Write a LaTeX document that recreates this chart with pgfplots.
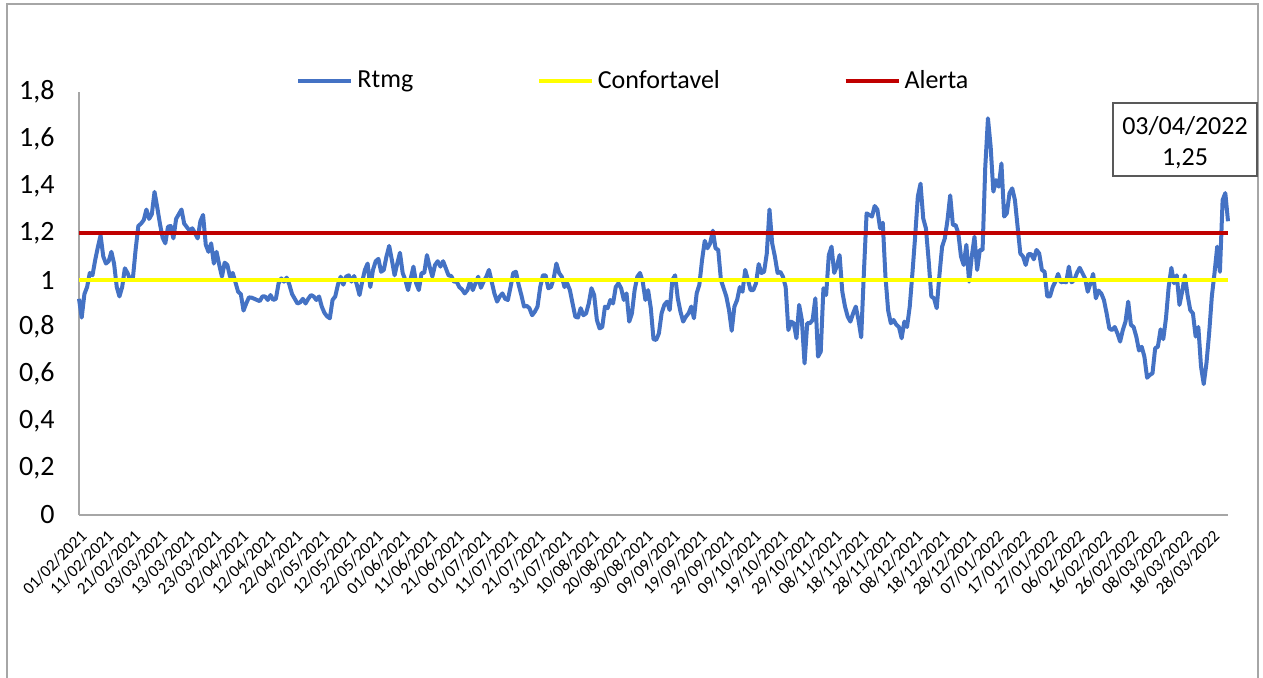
\documentclass[border=0pt]{standalone}
\usepackage{pgfplots}
\pgfplotsset{compat=1.18}
\usepackage{pgfplotstable}
\usepackage{fontspec}
\setmainfont{Carlito}
\definecolor{rtblue}{HTML}{4472C4}
\definecolor{confy}{HTML}{FFFF00}
\definecolor{alred}{HTML}{C00000}
\definecolor{frame}{HTML}{A6A6A6}
\definecolor{boxgray}{HTML}{595959}
\pgfplotstableread{
d v
0 0.92
1 0.84
2 0.94
3 0.97
4 1.03
5 1.02
6 1.085
7 1.14
8 1.19
9 1.10
10 1.07
11 1.08
12 1.12
13 1.07
14 0.97
15 0.93
16 0.97
17 1.05
18 1.03
19 1.0
20 1.01
21 1.13
22 1.23
23 1.24
24 1.255
25 1.30
26 1.26
27 1.28
28 1.375
29 1.31
30 1.24
31 1.18
32 1.156
33 1.227
34 1.23
35 1.177
36 1.26
37 1.28
38 1.30
39 1.24
40 1.225
41 1.21
42 1.22
43 1.20
44 1.177
45 1.25
46 1.277
47 1.15
48 1.12
49 1.156
50 1.07
51 1.12
52 1.064
53 1.014
54 1.074
55 1.064
56 1.014
57 1.03
58 0.99
59 0.95
60 0.94
61 0.87
62 0.90
63 0.926
64 0.925
65 0.92
66 0.915
67 0.91
68 0.93
69 0.93
70 0.915
71 0.936
72 0.915
73 0.92
74 0.986
75 1.007
76 0.993
77 1.01
78 0.98
79 0.94
80 0.92
81 0.90
82 0.905
83 0.92
84 0.90
85 0.92
86 0.936
87 0.93
88 0.915
89 0.93
90 0.887
91 0.86
92 0.845
93 0.837
94 0.915
95 0.93
96 0.98
97 1.014
98 0.98
99 1.014
100 1.02
101 0.993
102 1.017
103 0.98
104 0.936
105 0.993
106 1.043
107 1.07
108 0.97
109 1.043
110 1.08
111 1.09
112 1.035
113 1.043
114 1.10
115 1.145
116 1.085
117 1.02
118 1.07
119 1.116
120 1.03
121 1.0
122 0.957
123 1.007
124 1.057
125 0.986
126 0.957
127 1.03
128 1.03
129 1.106
130 1.057
131 1.014
132 1.064
133 1.08
134 1.057
135 1.08
136 1.05
137 1.02
138 1.017
139 0.993
140 0.993
141 0.97
142 0.96
143 0.943
144 0.957
145 0.993
146 0.957
147 0.986
148 1.014
149 0.967
150 0.993
151 1.014
152 1.043
153 0.993
154 0.943
155 0.908
156 0.93
157 0.943
158 0.92
159 0.915
160 0.97
161 1.03
162 1.035
163 0.98
164 0.936
165 0.887
166 0.89
167 0.88
168 0.85
169 0.865
170 0.887
171 0.97
172 1.02
173 1.02
174 0.965
175 0.97
176 1.007
177 1.07
178 1.03
179 1.014
180 0.97
181 0.986
182 0.957
183 0.90
184 0.844
185 0.84
186 0.88
187 0.85
188 0.858
189 0.90
190 0.965
191 0.936
192 0.83
193 0.794
194 0.80
195 0.887
196 0.88
197 0.915
198 0.90
199 0.97
200 0.986
201 0.965
202 0.915
203 0.943
204 0.823
205 0.858
206 0.957
207 1.014
208 1.03
209 0.993
210 0.915
211 0.957
212 0.88
213 0.748
214 0.745
215 0.773
216 0.858
217 0.894
218 0.908
219 0.872
220 1.0
221 1.02
222 0.922
223 0.865
224 0.823
225 0.844
226 0.858
227 0.887
228 0.837
229 0.943
230 0.98
231 1.085
232 1.167
233 1.135
234 1.156
235 1.21
236 1.135
237 1.128
238 1.0
239 0.965
240 0.93
241 0.872
242 0.784
243 0.887
244 0.915
245 0.97
246 0.95
247 1.043
248 1.0
249 0.957
250 0.957
251 0.986
252 1.068
253 1.03
254 1.035
255 1.113
256 1.30
257 1.156
258 1.10
259 1.03
260 1.035
261 1.014
262 0.97
263 0.787
264 0.823
265 0.816
266 0.752
267 0.894
268 0.83
269 0.645
270 0.816
271 0.816
272 0.83
273 0.922
274 0.674
275 0.695
276 0.965
277 0.936
278 1.106
279 1.142
280 1.03
281 1.06
282 1.106
283 0.95
284 0.887
285 0.844
286 0.823
287 0.858
288 0.887
289 0.83
290 0.756
291 1.03
292 1.284
293 1.277
294 1.27
295 1.315
296 1.30
297 1.22
298 1.244
299 1.014
300 0.87
301 0.816
302 0.83
303 0.81
304 0.80
305 0.752
306 0.823
307 0.80
308 0.887
309 1.03
310 1.184
311 1.355
312 1.41
313 1.262
314 1.22
315 1.085
316 0.93
317 0.922
318 0.88
319 1.02
320 1.142
321 1.177
322 1.255
323 1.36
324 1.234
325 1.234
326 1.20
327 1.10
328 1.064
329 1.15
330 0.993
331 1.10
332 1.184
333 1.043
334 1.128
335 1.128
336 1.48
337 1.688
338 1.567
339 1.376
340 1.425
341 1.397
342 1.496
343 1.27
344 1.284
345 1.37
346 1.39
347 1.34
348 1.226
349 1.113
350 1.10
351 1.064
352 1.11
353 1.11
354 1.088
355 1.128
356 1.113
357 1.043
358 1.035
359 0.93
360 0.93
361 0.97
362 0.993
363 1.026
364 0.99
365 0.993
366 0.99
367 1.057
368 0.99
369 1.0
370 1.03
371 1.052
372 1.03
373 1.007
374 0.95
375 0.986
376 1.026
377 0.922
378 0.955
379 0.943
380 0.915
381 0.858
382 0.794
383 0.787
384 0.80
385 0.773
386 0.738
387 0.787
388 0.823
389 0.908
390 0.809
391 0.80
392 0.759
393 0.70
394 0.716
395 0.674
396 0.584
397 0.596
398 0.603
399 0.71
400 0.716
401 0.79
402 0.748
403 0.837
404 0.97
405 1.052
406 0.986
407 1.02
408 0.894
409 0.95
410 1.02
411 0.936
412 0.872
413 0.858
414 0.759
415 0.80
416 0.631
417 0.557
418 0.645
419 0.773
420 0.93
421 1.03
422 1.142
423 1.035
424 1.34
425 1.37
426 1.25
}\rtmg
\begin{document}
\begin{tikzpicture}
\useasboundingbox (0pt,0pt) rectangle (631.5pt,338.5pt);
\draw[frame, line width=0.8pt] (3.5pt,-10pt) rectangle (629pt,336.5pt);
\begin{axis}[
  at={(39.5pt,81pt)}, anchor=south west,
  scale only axis, width=574.5pt, height=211.5pt,
  xmin=0, xmax=426, ymin=0, ymax=1.8,
  axis x line*=bottom, axis y line*=left,
  axis line style={frame, line width=0.8pt, -},
  major tick length=0pt,
  xtick={0,10,...,420},
  xticklabels={01/02/2021,11/02/2021,21/02/2021,03/03/2021,13/03/2021,23/03/2021,02/04/2021,12/04/2021,22/04/2021,02/05/2021,12/05/2021,22/05/2021,01/06/2021,11/06/2021,21/06/2021,01/07/2021,11/07/2021,21/07/2021,31/07/2021,10/08/2021,20/08/2021,30/08/2021,09/09/2021,19/09/2021,29/09/2021,09/10/2021,19/10/2021,29/10/2021,08/11/2021,18/11/2021,28/11/2021,08/12/2021,18/12/2021,28/12/2021,07/01/2022,17/01/2022,27/01/2022,06/02/2022,16/02/2022,26/02/2022,08/03/2022,18/03/2022,28/03/2022},
  xticklabel style={xshift=2.5pt, yshift=-9pt, rotate=45, anchor=east, inner sep=0pt, font=\fontsize{8.5}{10}\selectfont},
  ytick={0,0.2,0.4,0.6,0.8,1,1.2,1.4,1.6,1.8},
  yticklabels={0,{0,2},{0,4},{0,6},{0,8},1,{1,2},{1,4},{1,6},{1,8}},
  yticklabel style={anchor=east, inner sep=0pt, xshift=-12pt, font=\fontsize{14}{16}\selectfont},
  legend columns=3,
  legend image code/.code={\draw[#1] (0pt,0pt) -- (26.5pt,0pt);},
  legend style={draw=none, fill=none, inner sep=0pt, at={(0.1889,1.026)}, anchor=west,
    font=\fontsize{13}{15}\selectfont, nodes={inner sep=1pt},
    /tikz/every odd column/.append style={column sep=1pt},
    /tikz/every even column/.append style={column sep=61pt}},
  clip=false,
]
\addplot[rtblue, line width=2pt, line join=round] table[x=d, y=v] {\rtmg};
\addlegendentry{Rtmg}
\addplot[confy, line width=1.8pt] coordinates {(0,1) (426,1)};
\addlegendentry{Confortavel}
\addplot[alred, line width=1.8pt] coordinates {(0,1.2) (426,1.2)};
\addlegendentry{Alerta}
\end{axis}
\draw[boxgray, line width=0.8pt, fill=white] (556.5pt,250.5pt) rectangle (628.5pt,287pt);
\node[font=\fontsize{13}{15}\selectfont, inner sep=0pt] at (592.5pt,275.5pt) {03/04/2022};
\node[font=\fontsize{13}{15}\selectfont, inner sep=0pt] at (592.5pt,259pt) {1,25};
\end{tikzpicture}
\end{document}
